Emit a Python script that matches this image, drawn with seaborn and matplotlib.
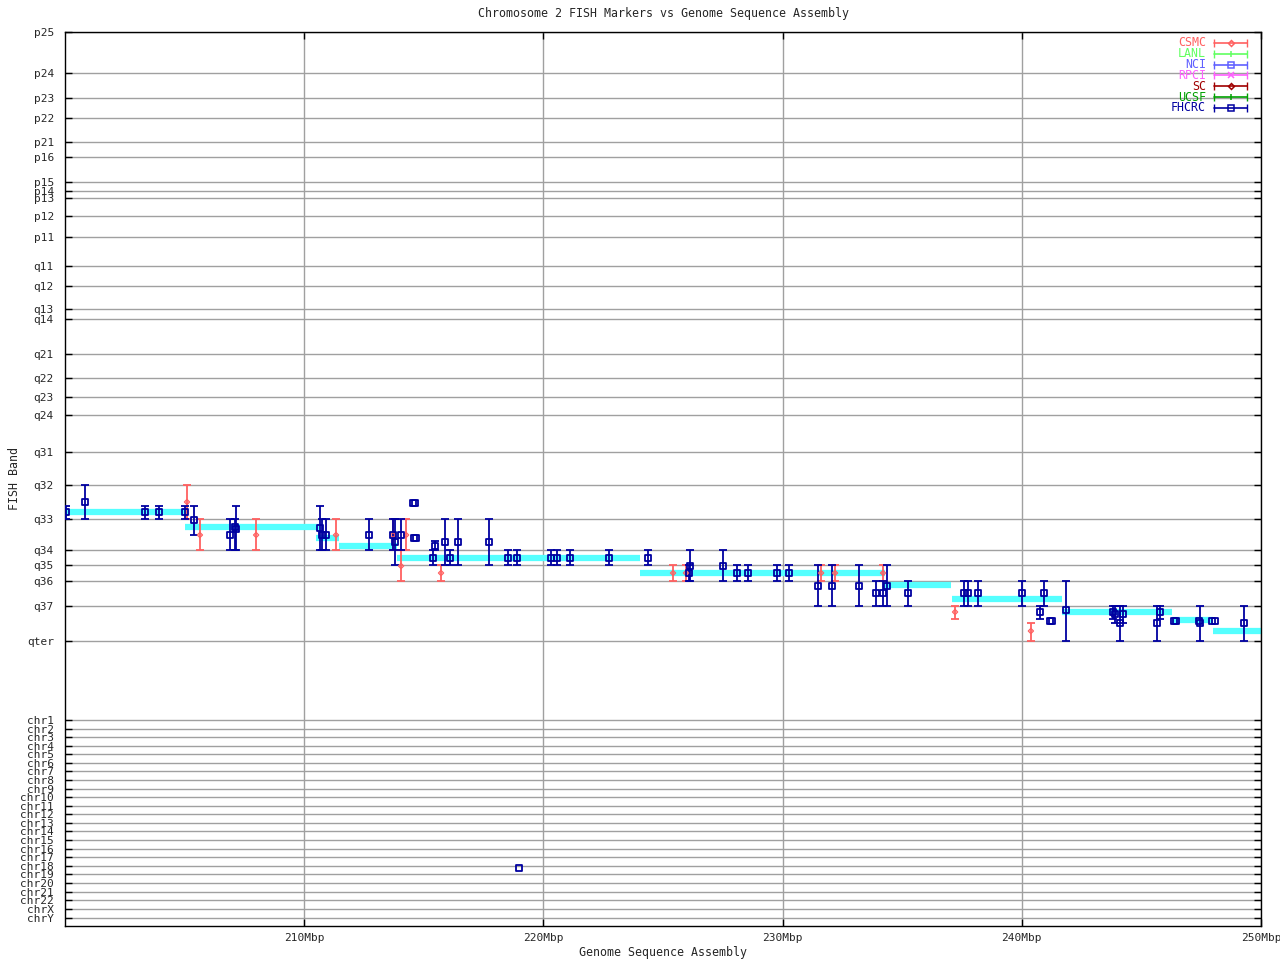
import numpy as np
import pandas as pd
import seaborn as sns
import matplotlib
matplotlib.use("Agg")
import matplotlib.pyplot as plt

# FISH band axis (positions on the band scale, top = p25)
band_names = ["p25", "p24", "p23", "p22", "p21", "p16", "p15", "p14", "p13", "p12", "p11",
              "q11", "q12", "q13", "q14", "q21", "q22", "q23", "q24", "q31", "q32", "q33",
              "q34", "q35", "q36", "q37", "qter"]
band_pos = [32, 73, 98, 118, 142, 157, 182, 191, 198, 216, 237,
            266, 286, 309, 319, 354, 378, 397, 415, 452, 485, 519,
            550, 565, 581, 606, 641]
chr_names = ["chr1", "chr2", "chr3", "chr4", "chr5", "chr6", "chr7", "chr8", "chr9", "chr10",
             "chr11", "chr12", "chr13", "chr14", "chr15", "chr16", "chr17", "chr18", "chr19",
             "chr20", "chr21", "chr22", "chrX", "chrY"]
chr_pos = [720, 729, 737, 746, 754, 763, 771, 780, 789, 797, 806, 814, 823, 831, 840,
           849, 857, 866, 874, 883, 892, 900, 909, 918]

x_ticks = [210, 220, 230, 240, 250]
x_labels = ["210Mbp", "220Mbp", "230Mbp", "240Mbp", "250Mbp"]

# genome sequence assembly segments (Mbp start, Mbp end, band position)
seg_start = [200.0, 205.0, 210.5, 211.45, 213.9, 224.05, 234.3, 237.1, 241.7, 246.3, 248.0]
seg_end = [205.1, 210.6, 211.45, 213.9, 224.05, 234.3, 237.05, 241.7, 246.3, 248.0, 250.0]
seg_band = [512, 527, 538, 546, 558, 573, 585, 599, 612, 620, 631]

# FHCRC markers: position, band, band range (nan = no range)
fhcrc_mbp = [200.04, 200.84, 203.34, 203.93, 205.02, 205.39, 206.90, 207.11, 207.15,
             210.66, 210.74, 210.91, 212.71, 213.71, 213.80, 214.05, 214.55, 214.63,
             214.59, 214.67, 215.38, 215.47, 215.89, 216.10, 216.43, 217.73, 218.52,
             218.90, 218.98, 220.32, 220.57, 221.11, 222.74, 224.37, 226.09, 226.13,
             227.51, 228.09, 228.55, 229.77, 230.27, 231.48, 232.07, 233.19, 233.90,
             234.20, 234.36, 235.24, 237.58, 237.75, 238.17, 240.01, 240.76, 240.93,
             241.18, 241.26, 241.85, 243.81, 243.90, 244.11, 244.23, 245.65, 245.78,
             246.36, 246.44, 247.41, 247.45, 247.95, 248.08, 249.29]
fhcrc_band = [512, 502, 512, 512, 512, 520, 535, 527, 529,
              528, 535, 535, 535, 535, 542, 535, 503, 503,
              538, 538, 558, 546, 542, 558, 542, 542, 558,
              558, 868, 558, 558, 558, 558, 558, 573, 566,
              566, 573, 573, 573, 573, 586, 586, 586, 593,
              593, 586, 593, 593, 593, 593, 593, 612, 593,
              621, 621, 610, 612, 614, 623, 614, 623, 612,
              621, 621, 621, 623, 621, 621, 623]
fhcrc_lo = [506, 485, 506, 506, 506, 506, 519, 519, 506,
            506, 519, 519, 519, 519, 519, 519, np.nan, np.nan,
            np.nan, np.nan, 550, 541, 519, 550, 519, 519, 550,
            550, np.nan, 550, 550, 550, 550, 550, 565, 550,
            550, 565, 565, 565, 565, 565, 565, 565, 581,
            581, 565, 581, 581, 581, 581, 581, 606, 581,
            np.nan, np.nan, 581, 606, 606, 606, 606, 606, 606,
            np.nan, np.nan, np.nan, 606, np.nan, np.nan, 606]
fhcrc_hi = [519, 519, 519, 519, 519, 535, 550, 550, 550,
            550, 550, 550, 550, 550, 565, 550, np.nan, np.nan,
            np.nan, np.nan, 565, 550, 565, 565, 565, 565, 565,
            565, np.nan, 565, 565, 565, 565, 565, 581, 581,
            581, 581, 581, 581, 581, 606, 606, 606, 606,
            606, 606, 606, 606, 606, 606, 606, 619, 606,
            np.nan, np.nan, 641, 619, 623, 641, 623, 641, 619,
            np.nan, np.nan, np.nan, 641, np.nan, np.nan, 641]

# CSMC markers
csmc_mbp = [205.10, 205.64, 207.99, 211.33, 213.71, 214.26, 214.05, 215.72,
            225.42, 225.96, 231.61, 232.19, 234.20, 237.21, 240.38]
csmc_band = [502, 535, 535, 535, 535, 535, 566, 573,
             573, 573, 573, 573, 573, 612, 631]
csmc_lo = [485, 519, 519, 519, 519, 519, 550, 565,
           565, 565, 565, 565, 565, 606, 623]
csmc_hi = [519, 550, 550, 550, 550, 550, 581, 581,
           581, 581, 581, 581, 581, 619, 641]

legend_names = ["CSMC", "LANL", "NCI", "RPCI", "SC", "UCSF", "FHCRC"]
legend_colors = ["#ff6060", "#60ff60", "#6060ff", "#ff60ff", "#a00000", "#00a000", "#0000a0"]
legend_markers = ["D", "|", "s", "x", "D", "|", "s"]

sns.set_theme(style="white")
plt.rcParams['font.family'] = ['DejaVu Sans Mono', 'DejaVu Sans']

fig = plt.figure(figsize=(12.8, 9.6), dpi=100)
ax = fig.add_axes([65 / 1280, 34 / 960, 1196 / 1280, 894 / 960])

# assembly in cyan
n_seg = len(seg_start)
seg = pd.DataFrame({"mbp": seg_start + seg_end,
                    "band": seg_band + seg_band,
                    "seg": list(range(n_seg)) * 2})
sns.lineplot(data=seg, x="mbp", y="band", units="seg", estimator=None,
             color="#55ffff", lw=4.5, ax=ax, solid_capstyle="butt", zorder=2)


def draw_markers(mbp, band, lo, hi, color, marker, size, lw):
    df = pd.DataFrame({"mbp": mbp, "band": band, "lo": lo, "hi": hi})
    bars = df.dropna()
    ax.errorbar(bars["mbp"], bars["band"],
                yerr=[bars["band"] - bars["lo"], bars["hi"] - bars["band"]],
                fmt="none", ecolor=color, elinewidth=1.3, capsize=2.6, capthick=1.3, zorder=3)
    sns.scatterplot(data=df, x="mbp", y="band", marker=marker, s=size,
                    facecolor="none", edgecolor=color, linewidth=lw, ax=ax, zorder=4)


draw_markers(csmc_mbp, csmc_band, csmc_lo, csmc_hi, legend_colors[0], "D", 7, 0.9)
draw_markers(fhcrc_mbp, fhcrc_band, fhcrc_lo, fhcrc_hi, legend_colors[6], "s", 22, 1.3)

ax.set_xlim(200, 250)
ax.set_ylim(926, 32)
ax.set_xticks(x_ticks)
ax.set_xticklabels(x_labels)
ax.set_yticks(band_pos + chr_pos)
ax.set_yticklabels(band_names + chr_names)
ax.grid(True, color="#a0a0a0", lw=1)
ax.set_axisbelow(True)
ax.tick_params(axis="both", direction="in", length=5, width=1, color="black",
               labelsize=8, top=True, right=True, left=True, bottom=True)
ax.tick_params(axis="y", pad=8)
ax.tick_params(axis="x", pad=5)
for sp in ax.spines.values():
    sp.set_color("black")
    sp.set_linewidth(1)

ax.set_xlabel("Genome Sequence Assembly", fontsize=8.4, labelpad=2)
ax.set_ylabel("FISH Band", fontsize=8.4)
ax.yaxis.set_label_coords(-0.037, 0.5)
ax.set_title("Chromosome 2 FISH Markers vs Genome Sequence Assembly", fontsize=8.4, pad=11)

# gnuplot-style key in the top right corner
y0 = 0.9877
step = 0.0121
for i, (name, col, mk) in enumerate(zip(legend_names, legend_colors, legend_markers)):
    yy = y0 - i * step
    ax.text(0.954, yy, name, color=col, fontsize=8.4, ha="right", va="center",
            transform=ax.transAxes)
    ax.plot([0.9605, 0.9885], [yy, yy], color=col, lw=1.2, marker="|", markersize=6,
            transform=ax.transAxes, clip_on=False)
    ax.plot([0.9745], [yy], color=col, marker=mk, markersize=4 if mk != "D" else 3,
            markerfacecolor="none", markeredgewidth=1.1, transform=ax.transAxes, clip_on=False)

if ax.get_legend() is not None:
    ax.get_legend().remove()

fig.savefig("out.png", dpi=100)
